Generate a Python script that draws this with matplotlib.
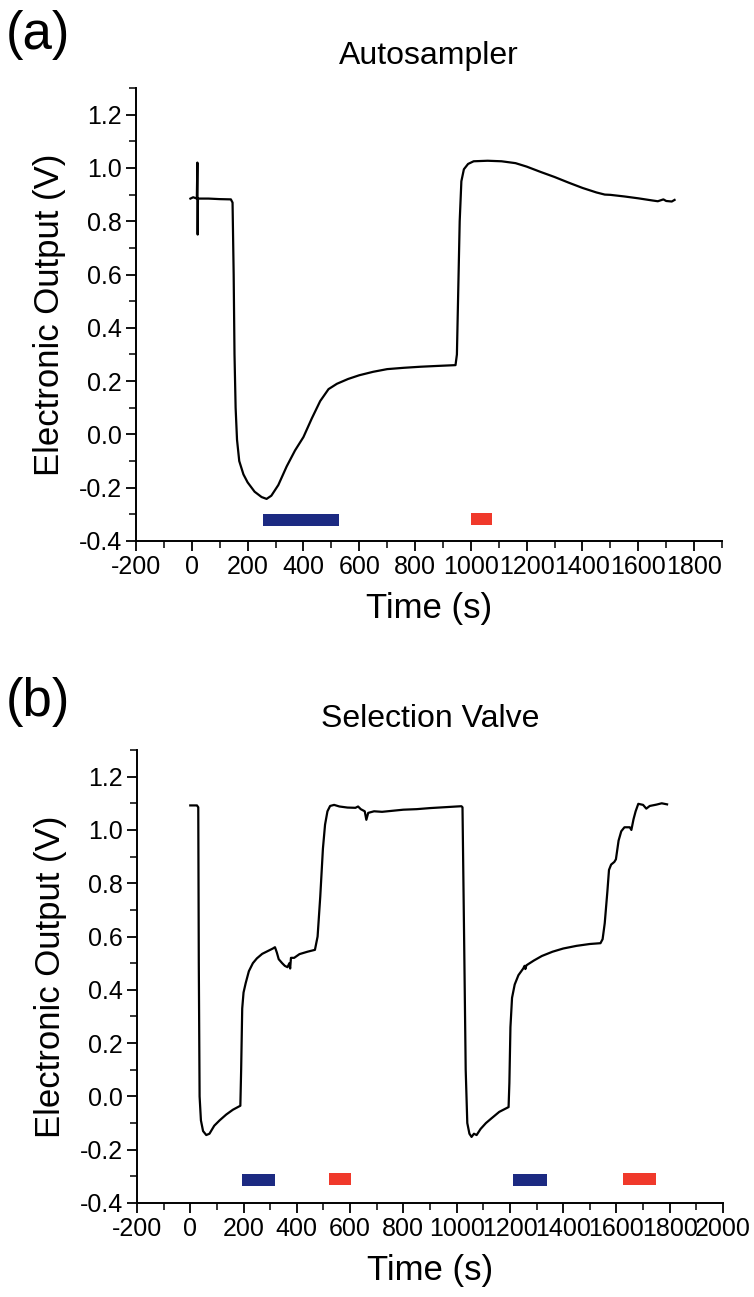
import matplotlib
matplotlib.use("Agg")
import matplotlib.pyplot as plt
from matplotlib.ticker import MultipleLocator, FormatStrFormatter

plt.rcParams['font.family'] = ['Liberation Sans', 'DejaVu Sans']
plt.rcParams['axes.unicode_minus'] = False

# (a) Autosampler trace
time_a = [-5, 5, 18, 20, 21, 22, 60, 100, 140, 146, 150, 153, 157, 162, 170, 185,
          200, 225, 250, 268, 285, 310, 340, 370, 400, 430, 460, 490, 520, 560,
          600, 650, 700, 760, 820, 880, 945, 950, 955, 960, 966, 975, 990, 1010,
          1060, 1110, 1160, 1200, 1250, 1300, 1350, 1400, 1450, 1480, 1500, 1550,
          1600, 1650, 1670, 1690, 1700, 1720, 1730]
volt_a = [0.885, 0.89, 0.885, 1.02, 0.75, 0.885, 0.885, 0.883, 0.882, 0.87, 0.6,
          0.3, 0.1, -0.02, -0.1, -0.15, -0.18, -0.215, -0.235, -0.242, -0.23,
          -0.19, -0.12, -0.06, -0.01, 0.06, 0.125, 0.17, 0.19, 0.208, 0.222,
          0.235, 0.245, 0.25, 0.254, 0.257, 0.26, 0.3, 0.55, 0.8, 0.95, 0.995,
          1.015, 1.025, 1.027, 1.025, 1.018, 1.005, 0.985, 0.966, 0.945, 0.925,
          0.908, 0.9, 0.899, 0.893, 0.886, 0.878, 0.875, 0.882, 0.876, 0.874, 0.88]

# (b) Selection valve trace
time_b = [0, 25, 30, 32, 35, 40, 48, 60, 72, 90, 110, 135, 160, 188, 191, 195,
          200, 208, 220, 235, 250, 270, 290, 310, 318, 325, 332, 345, 355, 365,
          372, 375, 378, 390, 410, 440, 468, 478, 488, 498, 506, 515, 525, 540,
          560, 590, 620, 630, 640, 655, 661, 668, 690, 720, 760, 800, 850, 900,
          950, 1000, 1018, 1022, 1028, 1034, 1040, 1048, 1056, 1065, 1075, 1090,
          1110, 1130, 1160, 1195, 1198, 1202, 1208, 1218, 1232, 1250, 1255, 1258,
          1262, 1290, 1320, 1360, 1400, 1450, 1500, 1540, 1548, 1556, 1566, 1572,
          1580, 1592, 1598, 1608, 1618, 1630, 1650, 1656, 1664, 1672, 1682, 1700,
          1712, 1725, 1750, 1770, 1790]
volt_b = [1.092, 1.092, 1.085, 0.5, 0.0, -0.09, -0.13, -0.145, -0.14, -0.11,
          -0.09, -0.068, -0.05, -0.035, 0.1, 0.33, 0.39, 0.425, 0.47, 0.5, 0.518,
          0.535, 0.545, 0.555, 0.56, 0.54, 0.515, 0.5, 0.49, 0.485, 0.5, 0.48,
          0.52, 0.52, 0.534, 0.543, 0.55, 0.6, 0.75, 0.93, 1.02, 1.07, 1.09,
          1.094, 1.088, 1.084, 1.083, 1.088, 1.078, 1.07, 1.038, 1.064, 1.07,
          1.068, 1.072, 1.076, 1.078, 1.082, 1.085, 1.088, 1.089, 1.085, 0.6, 0.1,
          -0.1, -0.14, -0.152, -0.14, -0.145, -0.122, -0.1, -0.083, -0.058, -0.04,
          0.05, 0.26, 0.37, 0.42, 0.455, 0.48, 0.49, 0.478, 0.492, 0.51, 0.527,
          0.543, 0.555, 0.565, 0.572, 0.575, 0.59, 0.65, 0.77, 0.85, 0.87, 0.88,
          0.89, 0.96, 0.995, 1.01, 1.01, 1.0, 1.04, 1.07, 1.098, 1.094, 1.08,
          1.09, 1.095, 1.1, 1.096]

# marker bars under the traces: start, end, vertical centre
bars_a_start = [255, 1000]
bars_a_end = [528, 1076]
bars_a_y = [-0.32, -0.318]
bars_a_color = ['#1c2a82', '#f0392b']

bars_b_start = [195, 520, 1213, 1624]
bars_b_end = [318, 603, 1338, 1747]
bars_b_y = [-0.313, -0.310, -0.312, -0.309]
bars_b_color = ['#1c2a82', '#f0392b', '#1c2a82', '#f0392b']

W, H = 754, 1297
fig = plt.figure(figsize=(W / 100, H / 100), dpi=100)
ax1 = fig.add_axes([136 / W, 1 - 541 / H, 586 / W, 453 / H])
ax2 = fig.add_axes([137 / W, 1 - 1203 / H, 586 / W, 453 / H])


def style_axis(ax, xmax, xticks_max):
    ax.spines['top'].set_visible(False)
    ax.spines['right'].set_visible(False)
    for s in ('left', 'bottom'):
        ax.spines[s].set_linewidth(1.4)
    ax.set_ylim(-0.4, 1.3)
    ax.set_xlim(-200, xmax)
    ax.set_xticks(range(-200, xticks_max + 1, 200))
    ax.xaxis.set_minor_locator(MultipleLocator(100))
    ax.yaxis.set_major_locator(MultipleLocator(0.2))
    ax.yaxis.set_minor_locator(MultipleLocator(0.1))
    ax.yaxis.set_major_formatter(FormatStrFormatter('%.1f'))
    ax.tick_params(which='major', direction='out', length=7, width=1.3,
                   labelsize=18, pad=3)
    ax.tick_params(which='minor', direction='out', length=5, width=1.1)
    ax.set_xlabel('Time (s)', fontsize=25)
    ax.set_ylabel('Electronic Output (V)', fontsize=25)
    ax.xaxis.set_label_coords(0.5, -0.15)
    ax.yaxis.set_label_coords(-0.148, 0.5)
    ax.xaxis.label.set_va('center')
    ax.yaxis.label.set_va('center')


ax1.plot(time_a, volt_a, color='black', lw=1.6)
for s, e, y, c in zip(bars_a_start, bars_a_end, bars_a_y, bars_a_color):
    ax1.barh(y, e - s, left=s, height=0.044, color=c)
style_axis(ax1, 1900, 1800)

ax2.plot(time_b, volt_b, color='black', lw=1.6)
for s, e, y, c in zip(bars_b_start, bars_b_end, bars_b_y, bars_b_color):
    ax2.barh(y, e - s, left=s, height=0.045, color=c)
style_axis(ax2, 2000, 2000)

fig.text(429 / W, 1 - 64 / H, 'Autosampler', fontsize=23, ha='center', va='baseline')
fig.text(430 / W, 1 - 727 / H, 'Selection Valve', fontsize=23, ha='center', va='baseline')
fig.text(6 / W, 1 - 35 / H, '(a)', fontsize=38, ha='left', va='center')
fig.text(6 / W, 1 - 702 / H, '(b)', fontsize=38, ha='left', va='center')

fig.savefig('out.png', dpi=100)
